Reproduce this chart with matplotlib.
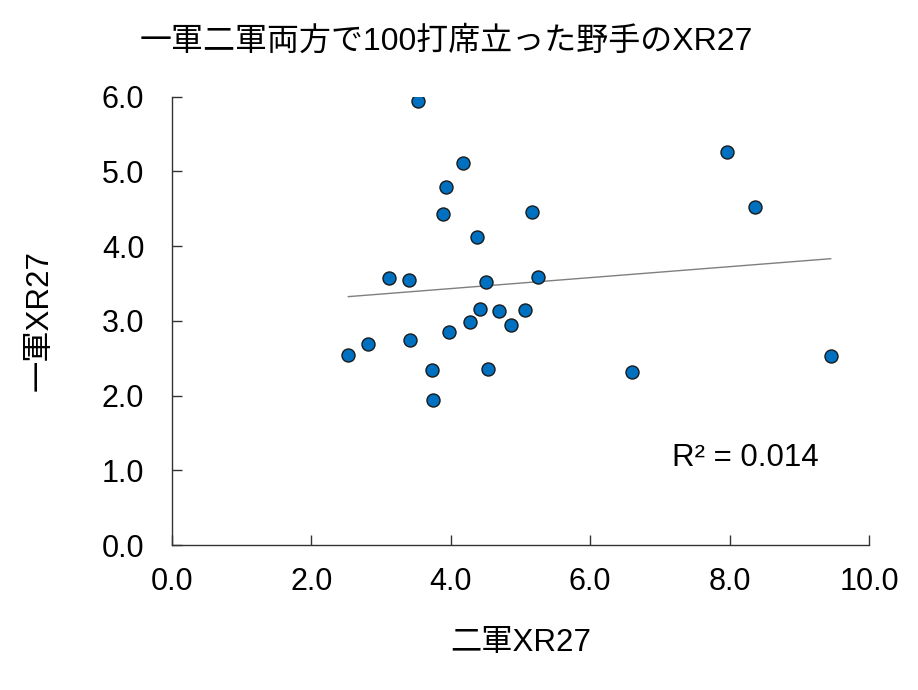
import numpy as np
import matplotlib
matplotlib.use("Agg")
import matplotlib.pyplot as plt

plt.rcParams['font.family'] = ['Liberation Sans', 'Noto Sans CJK JP', 'DejaVu Sans']

# 二軍XR27 (x) / 一軍XR27 (y)
farm_xr27 = [3.53, 4.17, 3.93, 3.89, 5.17, 4.37,
             3.11, 3.40, 4.51, 5.25, 4.42, 4.69, 5.07, 4.27, 4.87, 3.97,
             3.41, 2.81, 2.53, 3.73, 4.54, 3.74,
             7.96, 8.36, 6.60, 9.45]
top_xr27 = [5.94, 5.11, 4.79, 4.43, 4.45, 4.12,
            3.58, 3.55, 3.52, 3.59, 3.16, 3.13, 3.14, 2.99, 2.95, 2.85,
            2.75, 2.69, 2.54, 2.34, 2.35, 1.94,
            5.26, 4.52, 2.31, 2.53]

x_ticks = [0, 2, 4, 6, 8, 10]
y_ticks = [0, 1, 2, 3, 4, 5, 6]
title = "一軍二軍両方で100打席立った野手のXR27"
r2_label = "R² = 0.014"

fig = plt.figure(figsize=(9.18, 6.9), dpi=100)
ax = fig.add_axes([0.1874, 0.2101, 0.7592, 0.6498])

x = np.array(farm_xr27)
y = np.array(top_xr27)
slope, intercept = np.polyfit(x, y, 1)
xs = np.array([x.min(), x.max()])
ax.plot(xs, slope * xs + intercept, color='#7f7f7f', linewidth=1.0, zorder=2)

ax.scatter(x, y, s=88, facecolor='#0070C0', edgecolor='#1a1a1a', linewidth=1.0, zorder=3)

ax.set_xlim(0, 10)
ax.set_ylim(0, 6)
ax.set_xticks(x_ticks)
ax.set_yticks(y_ticks)
ax.set_xticklabels([f"{v:.1f}" for v in x_ticks])
ax.set_yticklabels([f"{v:.1f}" for v in y_ticks])
ax.tick_params(direction='in', length=7, width=1, colors='#333333', labelsize=22,
               labelcolor='black')
ax.tick_params(axis='x', pad=16)
ax.tick_params(axis='y', pad=20)
for side in ['top', 'right']:
    ax.spines[side].set_visible(False)
for side in ['left', 'bottom']:
    ax.spines[side].set_color('#333333')
    ax.spines[side].set_linewidth(1.0)

ax.set_xlabel("二軍XR27", fontsize=22.5, labelpad=22)
ax.set_ylabel("一軍XR27", fontsize=22.5, labelpad=34)

fig.text(0.486, 0.94, title, ha='center', va='center', fontsize=23)
ax.text(7.18, 1.17, r2_label, fontsize=22.5, ha='left', va='center')

fig.savefig("out.png", dpi=100)
